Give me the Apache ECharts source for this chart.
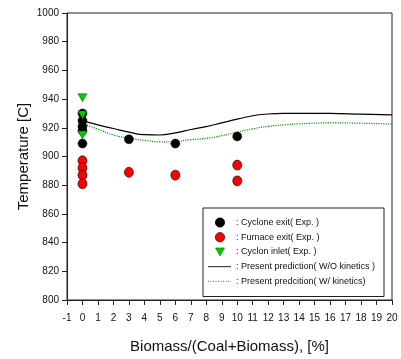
<!DOCTYPE html>
<html>
<head>
<meta charset="utf-8">
<script src="https://cdn.jsdelivr.net/npm/echarts@6/dist/echarts.min.js"></script>
<style>
  html, body { margin: 0; padding: 0; background: #fff; }
  #chart { width: 401px; height: 359px; }
</style>
</head>
<body>
<div id="chart"></div>
<script>
var cycloneExit = [[0, 930], [0, 925], [0, 921], [0, 918], [0, 909], [3, 912], [6, 909], [10, 914]];
var furnaceExit = [[0, 897], [0, 892], [0, 887], [0, 881], [3, 889], [6, 887], [10, 894], [10, 883]];
var cyclonInlet = [[0, 941], [0, 929], [0, 915]];

// model curves
var predX = [0, 1, 2, 3, 4, 5, 6, 7, 8, 9, 10, 11, 12, 13, 14, 16, 18, 20];
var predNoKin = [925, 922, 919.5, 917, 915.2, 915, 916.5, 918.8, 920.8, 923.4, 926, 928.4, 929.6, 930, 930, 930, 929.5, 929];
var predKin = [923, 919, 915, 912.8, 911.3, 910.2, 910.5, 911.8, 912.6, 914.5, 917, 919.3, 921, 922, 922.8, 923.4, 923.2, 922.6];

var legendNames = [': Cyclone exit( Exp. )', ': Furnace exit( Exp. )', ': Cyclon inlet( Exp. )',
                   ': Present prediction( W/O kinetics )', ': Present predcition( W/ kinetics)'];

function pairs(xs, ys) {
    return xs.map(function (x, i) { return [x, ys[i]]; });
}

var font = '"Liberation Sans", Arial, sans-serif';
var chart = echarts.init(document.getElementById('chart'));

// legend box drawn by hand (icons like the original figure)
var lx = 203, ly = 208, rowH = 14.7, row0 = 14.5;
var legendEls = [{
    type: 'rect',
    shape: { x: lx, y: ly, width: 181, height: 88.5 },
    style: { fill: '#fff', stroke: '#222', lineWidth: 1 }
}, {
    type: 'circle',
    shape: { cx: 220, cy: ly + row0, r: 4.5 },
    style: { fill: '#000', stroke: '#000' }
}, {
    type: 'circle',
    shape: { cx: 220, cy: ly + row0 + rowH, r: 4.7 },
    style: { fill: '#ff0000', stroke: '#000', lineWidth: 0.6 }
}, {
    type: 'polygon',
    shape: { points: [[215.5, ly + row0 + 2 * rowH - 4], [224.5, ly + row0 + 2 * rowH - 4], [220, ly + row0 + 2 * rowH + 4]] },
    style: { fill: '#00cc00', stroke: '#005500', lineWidth: 0.5 }
}, {
    type: 'line',
    shape: { x1: 208, y1: ly + row0 + 3 * rowH, x2: 231, y2: ly + row0 + 3 * rowH },
    style: { stroke: '#444', lineWidth: 1.2 }
}, {
    type: 'line',
    shape: { x1: 208, y1: ly + row0 + 4 * rowH, x2: 231, y2: ly + row0 + 4 * rowH },
    style: { stroke: '#009900', lineWidth: 1, lineDash: [1, 1.5] }
}];
legendNames.forEach(function (t, i) {
    legendEls.push({
        type: 'text',
        style: {
            x: 236, y: ly + row0 + i * rowH, text: t,
            fill: '#111', font: '9px ' + font, verticalAlign: 'middle'
        }
    });
});

chart.setOption({
    animation: false,
    grid: {
        left: 67, right: 9, top: 13, bottom: 56,
        show: true, borderColor: '#222', borderWidth: 1
    },
    graphic: [{ type: 'group', z: 100, children: legendEls }],
    xAxis: {
        type: 'value', min: -1, max: 20, interval: 1,
        name: 'Biomass/(Coal+Biomass), [%]',
        nameLocation: 'middle', nameGap: 39, nameMoveOverlap: false,
        nameTextStyle: { fontFamily: font, fontSize: 15, color: '#111' },
        axisLine: { show: true, onZero: false, lineStyle: { color: '#222' } },
        axisTick: { show: true, inside: false, length: 5, lineStyle: { color: '#222' } },
        axisLabel: { fontFamily: font, fontSize: 10, color: '#111', margin: 13 },
        splitLine: { show: false }
    },
    yAxis: {
        type: 'value', min: 800, max: 1000, interval: 20,
        name: 'Temperature [C]',
        nameLocation: 'middle', nameGap: 36, nameMoveOverlap: false,
        nameTextStyle: { fontFamily: font, fontSize: 15, color: '#111' },
        axisLine: { show: true, onZero: false, lineStyle: { color: '#222' } },
        axisTick: { show: true, inside: false, length: 5, lineStyle: { color: '#222' } },
        axisLabel: {
            fontFamily: font, fontSize: 10, color: '#111', margin: 8,
            formatter: function (v) { return String(v); }
        },
        splitLine: { show: false }
    },
    series: [{
        name: 'Cyclone exit( Exp. )',
        type: 'scatter',
        symbol: 'circle', symbolSize: [9, 9],
        itemStyle: { color: '#000', borderColor: '#000', borderWidth: 0.5, opacity: 1 },
        data: cycloneExit,
        z: 3
    }, {
        name: 'Furnace exit( Exp. )',
        type: 'scatter',
        symbol: 'circle', symbolSize: [9, 10],
        itemStyle: { color: '#ff0000', borderColor: '#000', borderWidth: 0.6, opacity: 1 },
        data: furnaceExit,
        z: 3
    }, {
        name: 'Cyclon inlet( Exp. )',
        type: 'scatter',
        symbol: 'triangle', symbolSize: [9, 8], symbolRotate: 180,
        itemStyle: { color: '#00cc00', borderColor: '#005500', borderWidth: 0.5, opacity: 1 },
        data: cyclonInlet,
        z: 4
    }, {
        name: 'Present prediction( W/O kinetics )',
        type: 'line',
        smooth: true, symbol: 'none',
        lineStyle: { color: '#000', width: 1.2 },
        data: pairs(predX, predNoKin),
        z: 2
    }, {
        name: 'Present predcition( W/ kinetics)',
        type: 'line',
        smooth: true, symbol: 'none',
        lineStyle: { color: '#009900', width: 1.2, type: 'dotted' },
        data: pairs(predX, predKin),
        z: 2
    }]
});
</script>
</body>
</html>
